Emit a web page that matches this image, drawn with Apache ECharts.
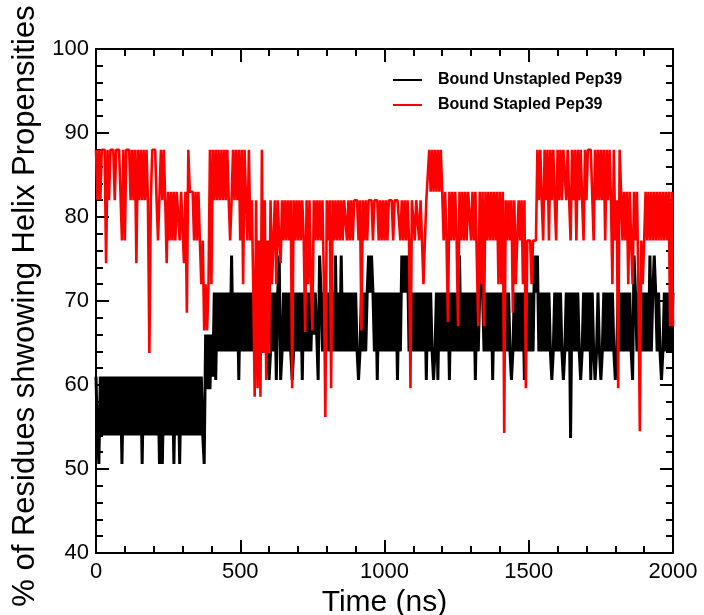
<!DOCTYPE html>
<html>
<head>
<meta charset="utf-8">
<script src="https://cdn.jsdelivr.net/npm/echarts/dist/echarts.min.js"></script>
<style>
html,body{margin:0;padding:0;background:#fff;}
#chart{width:704px;height:615px;}
</style>
</head>
<body>
<div id="chart"></div>
<script>
// Sampling interval of the values below (ns per value)
const STEP_NS = 5;

const seriesNames = ['Bound Unstapled Pep39', 'Bound Stapled Pep39'];

// Bound Unstapled Pep39 (% helix), one value every 5 ns, 0..2000 ns
const unstapledValues = [
  61,54,50.6,61,54,61,54,61,54,61,
  54,61,54,61,54,61,54,61,50.6,61,
  54,61,54,61,54,61,54,61,54,61,
  54,61,50.6,61,54,61,54,61,54,61,
  54,61,54,61,50.6,61,50.6,61,54,61,
  54,61,54,61,50.6,61,54,61,50.6,61,
  54,61,54,61,54,61,54,61,54,61,
  54,61,54,61,54,50.6,66,59.5,66,59.5,
  66,61,71,60.6,71,64,71,64,71,64,
  71,64,71,64,75.4,64,71,64,71,60.6,
  71,64,71,64,71,64,71,64,71,64,
  71,64,75.4,64,71,64,71,64,71,64,
  60.6,64,71,64,71,60.6,71,75.4,60.6,64,
  71,64,71,64,71,64,60.6,64,71,64,
  71,64,71,60.6,71,64,71,64,71,64,
  71,66,71,66,60.6,75.4,71,64,71,64,
  71,64,71,64,71,64,75.4,64,71,64,
  75.4,64,71,64,71,64,71,64,71,64,
  71,64,60.6,64,71,64,71,64,71,75.4,
  71,75.4,71,64,71,60.6,71,64,71,64,
  71,64,71,64,71,64,71,64,71,60.6,
  71,64,75.4,71,75.4,71,75.4,64,71,64,
  71,64,71,64,71,64,71,64,71,60.6,
  71,64,71,64,60.6,64,71,60.6,71,64,
  71,64,71,64,71,60.6,71,64,71,64,
  71,64,75.4,64,71,64,71,64,71,64,
  71,64,71,60.6,71,64,71,75.4,71,64,
  71,64,71,64,71,60.6,71,64,71,64,
  71,64,71,64,71,64,71,64,60.6,64,
  71,64,71,64,71,64,71,60.6,71,64,
  71,64,71,64,75.4,71,75.4,64,71,64,
  71,64,71,64,71,64,60.6,64,71,64,
  71,64,71,64,60.6,64,71,64,71,53.7,
  71,64,71,64,71,64,60.6,64,71,64,
  71,64,71,60.6,71,64,60.6,64,71,64,
  60.6,64,71,64,71,64,71,64,71,64,
  60.6,64,71,64,71,64,71,64,71,64,
  71,64,60.6,75.4,71,64,71,64,71,64,
  71,64,71,64,75.4,64,71,75.4,71,64,
  71,64,60.6,64,71,64,71,64,71,64,
  71
];

// Bound Stapled Pep39 (% helix), one value every 5 ns, 0..2000 ns
const stapledValues = [
  88,82,88,82,88,88,88,74.5,88,82,
  88,88,88,82,88,88,88,88,77.2,88,
  77.2,88,88,88,82,88,82,88,74.5,88,
  82,88,82,88,82,88,82,63.8,82,88,
  88,88,82,77.2,77.2,88,82,88,82,74.5,
  83,77.2,83,77.2,83,77.2,83,83,77.2,83,
  83,74.5,83,68.6,88,83,83,83,77.2,83,
  77.2,83,77.2,72,77.2,66.5,72,66.5,72,88,
  72,88,82,88,82,88,82,88,82,88,
  82,88,82,77.2,82,88,82,88,82,88,
  77.2,88,72,88,82,77.2,88,77.2,82,72,
  58.6,82,59.6,77.2,58.6,88,63.8,82,60.6,77.2,
  63.8,82,72,77.2,82,72,82,77.2,74.5,82,
  77.2,82,77.2,82,77.2,82,59.6,82,77.2,82,
  77.2,82,77.2,82,77.2,66.3,82,72,82,72,
  66.5,82,77.2,82,77.2,82,77.2,82,72,56.2,
  82,77.2,82,59.6,82,77.2,82,77.2,82,77.2,
  82,77.2,82,82,77.2,82,77.2,82,77.2,82,
  82,82,77.2,82,66.5,82,77.2,82,77.2,82,
  82,82,77.2,82,82,82,77.2,82,77.2,82,
  77.2,82,77.2,82,82,82,77.2,82,82,82,
  82,77.2,82,77.2,82,77.2,82,77.2,59.6,82,
  82,77.2,82,82,77.2,82,77.2,72,77.2,82,
  82,88,83,88,83,88,83,88,83,88,
  83,77.2,83,77.2,67.5,83,77.2,83,77.2,83,
  77.2,67,83,77.2,83,77.2,83,77.2,83,83,
  77.2,83,77.2,83,83,67,83,72,83,67,
  83,77.2,83,77.2,83,77.2,83,77.2,83,72,
  83,72,83,54.3,82,77.2,82,77.2,82,68.6,
  82,72,77.2,82,77.2,82,72,82,59.6,77.2,
  77.2,77.2,72,77.2,77.2,77.2,88,82,88,82,
  77.2,88,82,88,77.2,88,82,88,82,77.2,
  88,82,88,82,88,88,82,88,82,77.2,
  88,82,88,77.2,88,82,88,82,77.2,88,
  82,88,88,88,88,77.2,88,82,88,82,
  88,82,88,77.2,88,82,88,82,72,88,
  77.2,82,59.6,88,83,77.2,83,77.2,83,72,
  83,77.2,72,83,77.2,83,72,54.5,77.2,72,
  77.2,83,77.2,83,77.2,83,77.2,83,77.2,83,
  77.2,83,77.2,83,77.2,83,77.2,83,67,83,
  67
];

const xTicks = { min: 0, max: 2000, interval: 500 };
const yTicks = { min: 40, max: 100, interval: 10 };

function toPairs(vals) {
  return vals.map(function (v, i) { return [i * STEP_NS, v]; });
}

const FONT = 'Liberation Sans, Arial, sans-serif';
const lineSt = { color: '#000', width: 2 };

function xAxisDef(pos, labels) {
  return {
    type: 'value', position: pos,
    min: xTicks.min, max: xTicks.max, interval: xTicks.interval,
    name: labels ? 'Time (ns)' : '',
    nameLocation: 'middle', nameGap: 32,
    nameTextStyle: { fontSize: 30, color: '#000', fontFamily: FONT },
    axisLine: { show: true, onZero: false, lineStyle: lineSt },
    axisTick: { show: true, inside: true, length: 13, lineStyle: lineSt },
    minorTick: { show: true, splitNumber: 5, length: 7, lineStyle: lineSt },
    axisLabel: { show: labels, fontSize: 22, color: '#000', fontFamily: FONT, margin: 8,
      formatter: function (v) { return String(v); } },
    splitLine: { show: false }, minorSplitLine: { show: false }
  };
}
function yAxisDef(pos, labels) {
  return {
    type: 'value', position: pos,
    min: yTicks.min, max: yTicks.max, interval: yTicks.interval,
    name: labels ? '% of Residues shwowing Helix Propensities' : '',
    nameLocation: 'middle', nameGap: 52, nameRotate: 90,
    nameTextStyle: { fontSize: 31, color: '#000', fontFamily: FONT, padding: [0, 10, 0, 0] },
    axisLine: { show: true, onZero: false, lineStyle: lineSt },
    axisTick: { show: true, inside: true, length: 13, lineStyle: lineSt },
    minorTick: { show: true, splitNumber: 5, length: 7, lineStyle: lineSt },
    axisLabel: { show: labels, fontSize: 22, color: '#000', fontFamily: FONT, margin: 7 },
    splitLine: { show: false }, minorSplitLine: { show: false }
  };
}

const chart = echarts.init(document.getElementById('chart'), null, { renderer: 'canvas' });
chart.setOption({
  animation: false,
  backgroundColor: '#fff',
  grid: { left: 96, right: 31, top: 49, bottom: 62, containLabel: false, outerBoundsMode: 'none' },
  legend: {
    orient: 'vertical', left: 393, top: 72, padding: 0,
    itemWidth: 29, itemHeight: 2, itemGap: 9,
    data: [{ name: seriesNames[0], icon: 'rect' }, { name: seriesNames[1], icon: 'rect' }],
    textStyle: { fontSize: 16, fontWeight: 'bold', color: '#000', fontFamily: FONT, lineHeight: 16, padding: [0, 0, 0, 11] }
  },
  xAxis: [xAxisDef('bottom', true), xAxisDef('top', false)],
  yAxis: [yAxisDef('left', true), yAxisDef('right', false)],
  series: [
    {
      name: seriesNames[0], type: 'line', xAxisIndex: 0, yAxisIndex: 0,
      data: toPairs(unstapledValues), showSymbol: false, symbol: 'none',
      lineStyle: { color: '#000', width: 3 }, itemStyle: { color: '#000' },
      silent: true, z: 2
    },
    {
      name: seriesNames[1], type: 'line', xAxisIndex: 0, yAxisIndex: 0,
      data: toPairs(stapledValues), showSymbol: false, symbol: 'none',
      lineStyle: { color: '#ff0000', width: 2.6 }, itemStyle: { color: '#ff0000' },
      silent: true, z: 3
    }
  ]
});
</script>
</body>
</html>
